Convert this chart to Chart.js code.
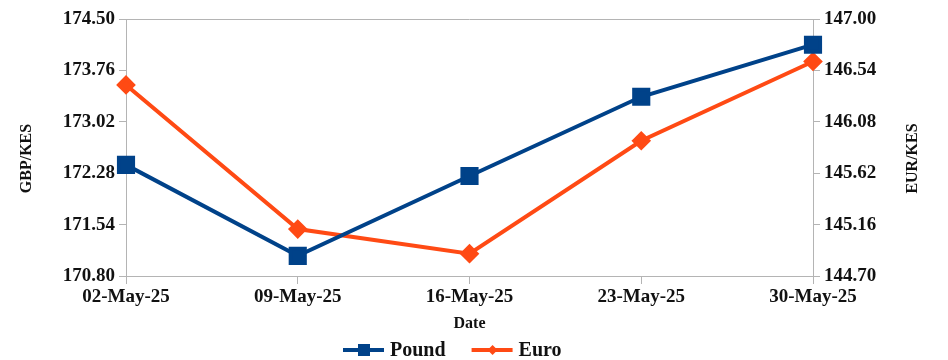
<!DOCTYPE html>
<html>
<head>
<meta charset="utf-8">
<script src="https://cdn.jsdelivr.net/npm/chart.js@4/dist/chart.umd.min.js"></script>
<style>
  html, body { margin: 0; padding: 0; background: #fff; }
  #wrap { width: 948px; height: 360px; }
</style>
</head>
<body>
<div id="wrap"><canvas id="c" width="948" height="360"></canvas></div>
<script>
const dates = ['02-May-25', '09-May-25', '16-May-25', '23-May-25', '30-May-25'];
const pound = [172.40, 171.09, 172.24, 173.38, 174.13];
const euro = [146.41, 145.12, 144.90, 145.91, 146.62];
const gbpTicks = [170.80, 171.54, 172.28, 173.02, 173.76, 174.50];
const eurTicks = [144.70, 145.16, 145.62, 146.08, 146.54, 147.00];

const BLUE = '#004289';
const ORANGE = '#ff4a14';
const AXIS = '#b4b4b4';
const INK = '#111';
const FONT = "'Liberation Serif', 'DejaVu Serif', serif";

// top frame line, rotated axis titles and the bottom legend
const extras = {
  id: 'extras',
  afterDraw(chart) {
    const { ctx, chartArea: a } = chart;
    ctx.save();
    ctx.strokeStyle = AXIS; ctx.lineWidth = 1;
    ctx.beginPath(); ctx.moveTo(a.left, a.top + 0.5); ctx.lineTo(a.right, a.top + 0.5); ctx.stroke();

    ctx.fillStyle = INK;
    ctx.font = `bold 16px ${FONT}`;
    ctx.textAlign = 'center'; ctx.textBaseline = 'middle';
    const midY = (a.top + a.bottom) / 2 + 11;
    ctx.save(); ctx.translate(27, midY); ctx.rotate(-Math.PI / 2); ctx.fillText('GBP/KES', 0, 0); ctx.restore();
    ctx.save(); ctx.translate(913, midY); ctx.rotate(-Math.PI / 2); ctx.fillText('EUR/KES', 0, 0); ctx.restore();

    // legend
    ctx.font = `bold 20px ${FONT}`;
    ctx.textAlign = 'left';
    const y = 350;
    let x = 343;
    chart.data.datasets.forEach((d, i) => {
      ctx.strokeStyle = d.borderColor; ctx.fillStyle = d.borderColor; ctx.lineWidth = 4;
      ctx.beginPath(); ctx.moveTo(x, y); ctx.lineTo(x + 41, y); ctx.stroke();
      const cx = x + 21;
      if (i === 0) ctx.fillRect(cx - 6, y - 6, 12, 12);
      else { ctx.beginPath(); ctx.moveTo(cx, y - 5); ctx.lineTo(cx + 5, y); ctx.lineTo(cx, y + 5); ctx.lineTo(cx - 5, y); ctx.closePath(); ctx.fill(); }
      x += 47;
      ctx.fillStyle = INK;
      ctx.fillText(d.label, x, y + 1);
      x += ctx.measureText(d.label).width + 26;
    });
    ctx.restore();
  }
};

const yScale = (ticks, pos, width) => ({
  type: 'linear', position: pos,
  min: ticks[0], max: ticks[ticks.length - 1],
  afterBuildTicks: s => { s.ticks = ticks.map(v => ({ value: v })); },
  afterFit: s => { s.width = width; },
  border: { display: true, color: AXIS, width: 1 },
  grid: { drawOnChartArea: false, drawTicks: true, tickLength: 7, color: AXIS },
  ticks: { color: INK, padding: 4, font: { family: FONT, size: 19, weight: 'bold' }, callback: v => Number(v).toFixed(2) }
});

new Chart(document.getElementById('c'), {
  type: 'line',
  data: {
    labels: dates,
    datasets: [
      { label: 'Pound', data: pound, yAxisID: 'y', borderColor: BLUE, backgroundColor: BLUE, borderWidth: 4, pointStyle: 'rect', pointRadius: 10, pointHoverRadius: 10, tension: 0 },
      { label: 'Euro', data: euro, yAxisID: 'y1', borderColor: ORANGE, backgroundColor: ORANGE, borderWidth: 4, pointStyle: 'rectRot', pointRadius: 7, pointHoverRadius: 7, tension: 0 }
    ]
  },
  options: {
    responsive: false, animation: false,
    layout: { padding: { top: 19, left: 0, right: 0, bottom: 27 } },
    plugins: { tooltip: { enabled: false }, legend: { display: false } },
    scales: {
      x: {
        offset: false,
        afterFit: s => { s.height = 57; },
        border: { display: true, color: AXIS, width: 1 },
        grid: { drawOnChartArea: false, drawTicks: true, tickLength: 8, color: AXIS },
        ticks: { color: INK, padding: 2, maxRotation: 0, font: { family: FONT, size: 19, weight: 'bold' } },
        title: { display: true, text: 'Date', color: INK, padding: { top: 0, bottom: 0 }, font: { family: FONT, size: 16, weight: 'bold' } }
      },
      y: yScale(gbpTicks, 'left', 126),
      y1: yScale(eurTicks, 'right', 135)
    }
  },
  plugins: [extras]
});
</script>
</body>
</html>
